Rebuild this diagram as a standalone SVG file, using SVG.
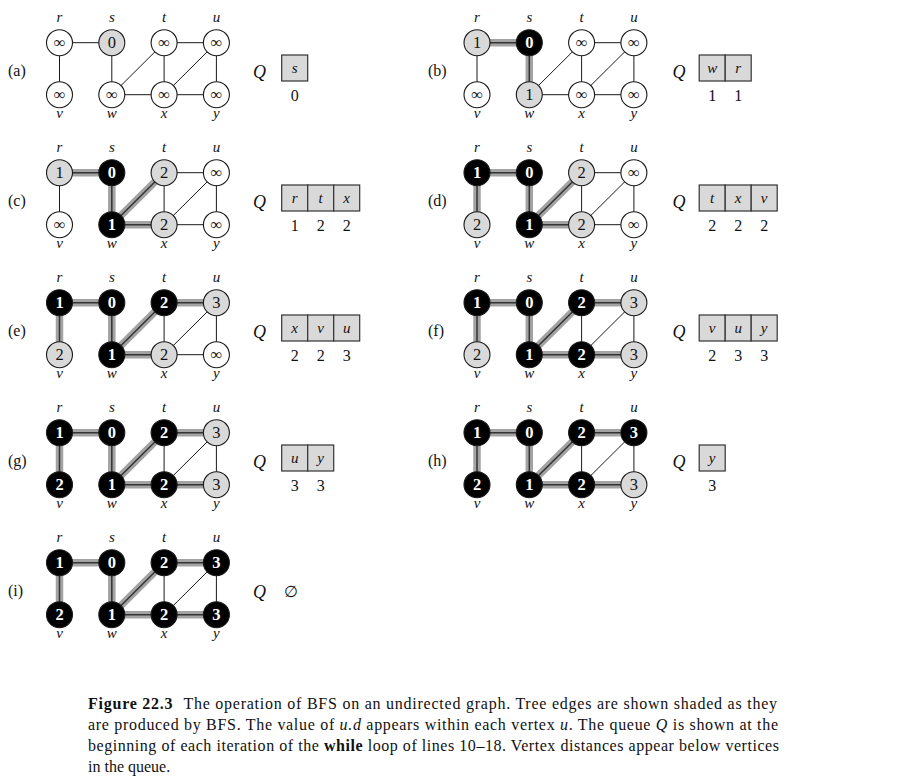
<svg xmlns="http://www.w3.org/2000/svg" width="918" height="783" viewBox="0 0 918 783">
<style>
.n circle{stroke:#1a1a1a;stroke-width:1.1}
.W{fill:#fff}.G{fill:#d9d9d9}.B{fill:#000}
.d,.lb,.pl,.q,.qn,.cap{font-family:"Liberation Serif","Times New Roman",Times,serif}
.d{font-size:16.5px;text-anchor:middle;fill:#111}
.db{fill:#fff;font-weight:bold}
.inf{font-size:16.5px}
.lb{font-style:italic;font-size:15px;text-anchor:middle;fill:#111}
.pl{font-size:16px;fill:#111}
.q{font-style:italic;font-size:18px;text-anchor:middle;fill:#111}
.qn{font-size:16px;text-anchor:middle;fill:#111}
.e line{stroke:#1a1a1a;stroke-width:1}
.e line.tb{stroke:#a3a3a3;stroke-width:7.5}
.e line.tc{stroke:#333;stroke-width:1.5}
.cell{fill:#d9d9d9;stroke:#333;stroke-width:1.2}
.cap{font-size:16px;fill:#111}
</style>

<!-- (a) -->
<g id="panel-a" transform="translate(59.5,42.7)">
<text class="pl" x="-51.5" y="33.5">(a)</text>
<g id="a-edges" class="e">
<line x1="0" y1="0" x2="52.3" y2="0"/><line x1="0" y1="0" x2="0" y2="52"/><line x1="52.3" y1="0" x2="52.3" y2="52"/>
<line x1="52.3" y1="52" x2="104.6" y2="0"/><line x1="52.3" y1="52" x2="104.6" y2="52"/><line x1="104.6" y1="0" x2="104.6" y2="52"/>
<line x1="104.6" y1="0" x2="156.9" y2="0"/><line x1="104.6" y1="52" x2="156.9" y2="0"/><line x1="104.6" y1="52" x2="156.9" y2="52"/><line x1="156.9" y1="0" x2="156.9" y2="52"/>
</g>
<g id="a-r" class="n"><circle class="W" cx="0" cy="0" r="13"/><text class="d inf" x="0" y="5">∞</text><text class="lb" x="0" y="-21">r</text></g>
<g id="a-s" class="n"><circle class="G" cx="52.3" cy="0" r="13"/><text class="d" x="52.3" y="5.5">0</text><text class="lb" x="52.3" y="-21">s</text></g>
<g id="a-t" class="n"><circle class="W" cx="104.6" cy="0" r="13"/><text class="d inf" x="104.6" y="5">∞</text><text class="lb" x="104.6" y="-21">t</text></g>
<g id="a-u" class="n"><circle class="W" cx="156.9" cy="0" r="13"/><text class="d inf" x="156.9" y="5">∞</text><text class="lb" x="156.9" y="-21">u</text></g>
<g id="a-v" class="n"><circle class="W" cx="0" cy="52" r="13"/><text class="d inf" x="0" y="57">∞</text><text class="lb" x="0" y="75.5">v</text></g>
<g id="a-w" class="n"><circle class="W" cx="52.3" cy="52" r="13"/><text class="d inf" x="52.3" y="57">∞</text><text class="lb" x="52.3" y="75.5">w</text></g>
<g id="a-x" class="n"><circle class="W" cx="104.6" cy="52" r="13"/><text class="d inf" x="104.6" y="57">∞</text><text class="lb" x="104.6" y="75.5">x</text></g>
<g id="a-y" class="n"><circle class="W" cx="156.9" cy="52" r="13"/><text class="d inf" x="156.9" y="57">∞</text><text class="lb" x="156.9" y="75.5">y</text></g>
<g id="a-queue"><text class="q" x="200" y="35">Q</text>
<rect class="cell" x="222.2" y="12.3" width="26" height="26"/>
<text class="lb" x="235.2" y="30.5">s</text>
<text class="qn" x="235.2" y="58">0</text></g>
</g>

<!-- (b) -->
<g id="panel-b" transform="translate(477,42.7)">
<text class="pl" x="-49" y="33.5">(b)</text>
<g id="b-edges" class="e">
<line x1="0" y1="0" x2="0" y2="52"/>
<line x1="52.3" y1="52" x2="104.6" y2="0"/><line x1="52.3" y1="52" x2="104.6" y2="52"/><line x1="104.6" y1="0" x2="104.6" y2="52"/>
<line x1="104.6" y1="0" x2="156.9" y2="0"/><line x1="104.6" y1="52" x2="156.9" y2="0"/><line x1="104.6" y1="52" x2="156.9" y2="52"/><line x1="156.9" y1="0" x2="156.9" y2="52"/>
<line class="tb" x1="0" y1="0" x2="52.3" y2="0"/><line class="tb" x1="52.3" y1="0" x2="52.3" y2="52"/>
<line class="tc" x1="0" y1="0" x2="52.3" y2="0"/><line class="tc" x1="52.3" y1="0" x2="52.3" y2="52"/>
</g>
<g id="b-r" class="n"><circle class="G" cx="0" cy="0" r="13"/><text class="d" x="0" y="5.5">1</text><text class="lb" x="0" y="-21">r</text></g>
<g id="b-s" class="n"><circle class="B" cx="52.3" cy="0" r="13"/><text class="d db" x="52.3" y="5.5">0</text><text class="lb" x="52.3" y="-21">s</text></g>
<g id="b-t" class="n"><circle class="W" cx="104.6" cy="0" r="13"/><text class="d inf" x="104.6" y="5">∞</text><text class="lb" x="104.6" y="-21">t</text></g>
<g id="b-u" class="n"><circle class="W" cx="156.9" cy="0" r="13"/><text class="d inf" x="156.9" y="5">∞</text><text class="lb" x="156.9" y="-21">u</text></g>
<g id="b-v" class="n"><circle class="W" cx="0" cy="52" r="13"/><text class="d inf" x="0" y="57">∞</text><text class="lb" x="0" y="75.5">v</text></g>
<g id="b-w" class="n"><circle class="G" cx="52.3" cy="52" r="13"/><text class="d" x="52.3" y="57.5">1</text><text class="lb" x="52.3" y="75.5">w</text></g>
<g id="b-x" class="n"><circle class="W" cx="104.6" cy="52" r="13"/><text class="d inf" x="104.6" y="57">∞</text><text class="lb" x="104.6" y="75.5">x</text></g>
<g id="b-y" class="n"><circle class="W" cx="156.9" cy="52" r="13"/><text class="d inf" x="156.9" y="57">∞</text><text class="lb" x="156.9" y="75.5">y</text></g>
<g id="b-queue"><text class="q" x="202" y="35">Q</text>
<rect class="cell" x="222.2" y="12.3" width="26" height="26"/><rect class="cell" x="248.2" y="12.3" width="26" height="26"/>
<text class="lb" x="235.2" y="30.5">w</text><text class="lb" x="261.2" y="30.5">r</text>
<text class="qn" x="235.2" y="58">1</text><text class="qn" x="261.2" y="58">1</text></g>
</g>

<!-- (c) -->
<g id="panel-c" transform="translate(59.5,172.7)">
<text class="pl" x="-51.5" y="33.5">(c)</text>
<g id="c-edges" class="e">
<line x1="0" y1="0" x2="0" y2="52"/>
<line x1="104.6" y1="0" x2="104.6" y2="52"/>
<line x1="104.6" y1="0" x2="156.9" y2="0"/><line x1="104.6" y1="52" x2="156.9" y2="0"/><line x1="104.6" y1="52" x2="156.9" y2="52"/><line x1="156.9" y1="0" x2="156.9" y2="52"/>
<line class="tb" x1="0" y1="0" x2="52.3" y2="0"/><line class="tb" x1="52.3" y1="0" x2="52.3" y2="52"/><line class="tb" x1="52.3" y1="52" x2="104.6" y2="0"/><line class="tb" x1="52.3" y1="52" x2="104.6" y2="52"/>
<line class="tc" x1="0" y1="0" x2="52.3" y2="0"/><line class="tc" x1="52.3" y1="0" x2="52.3" y2="52"/><line class="tc" x1="52.3" y1="52" x2="104.6" y2="0"/><line class="tc" x1="52.3" y1="52" x2="104.6" y2="52"/>
</g>
<g id="c-r" class="n"><circle class="G" cx="0" cy="0" r="13"/><text class="d" x="0" y="5.5">1</text><text class="lb" x="0" y="-21">r</text></g>
<g id="c-s" class="n"><circle class="B" cx="52.3" cy="0" r="13"/><text class="d db" x="52.3" y="5.5">0</text><text class="lb" x="52.3" y="-21">s</text></g>
<g id="c-t" class="n"><circle class="G" cx="104.6" cy="0" r="13"/><text class="d" x="104.6" y="5.5">2</text><text class="lb" x="104.6" y="-21">t</text></g>
<g id="c-u" class="n"><circle class="W" cx="156.9" cy="0" r="13"/><text class="d inf" x="156.9" y="5">∞</text><text class="lb" x="156.9" y="-21">u</text></g>
<g id="c-v" class="n"><circle class="W" cx="0" cy="52" r="13"/><text class="d inf" x="0" y="57">∞</text><text class="lb" x="0" y="75.5">v</text></g>
<g id="c-w" class="n"><circle class="B" cx="52.3" cy="52" r="13"/><text class="d db" x="52.3" y="57.5">1</text><text class="lb" x="52.3" y="75.5">w</text></g>
<g id="c-x" class="n"><circle class="G" cx="104.6" cy="52" r="13"/><text class="d" x="104.6" y="57.5">2</text><text class="lb" x="104.6" y="75.5">x</text></g>
<g id="c-y" class="n"><circle class="W" cx="156.9" cy="52" r="13"/><text class="d inf" x="156.9" y="57">∞</text><text class="lb" x="156.9" y="75.5">y</text></g>
<g id="c-queue"><text class="q" x="200" y="35">Q</text>
<rect class="cell" x="222.2" y="12.3" width="26" height="26"/><rect class="cell" x="248.2" y="12.3" width="26" height="26"/><rect class="cell" x="274.2" y="12.3" width="26" height="26"/>
<text class="lb" x="235.2" y="30.5">r</text><text class="lb" x="261.2" y="30.5">t</text><text class="lb" x="287.2" y="30.5">x</text>
<text class="qn" x="235.2" y="58">1</text><text class="qn" x="261.2" y="58">2</text><text class="qn" x="287.2" y="58">2</text></g>
</g>

<!-- (d) -->
<g id="panel-d" transform="translate(477,172.7)">
<text class="pl" x="-49" y="33.5">(d)</text>
<g id="d-edges" class="e">
<line x1="104.6" y1="0" x2="104.6" y2="52"/>
<line x1="104.6" y1="0" x2="156.9" y2="0"/><line x1="104.6" y1="52" x2="156.9" y2="0"/><line x1="104.6" y1="52" x2="156.9" y2="52"/><line x1="156.9" y1="0" x2="156.9" y2="52"/>
<line class="tb" x1="0" y1="0" x2="52.3" y2="0"/><line class="tb" x1="0" y1="0" x2="0" y2="52"/><line class="tb" x1="52.3" y1="0" x2="52.3" y2="52"/><line class="tb" x1="52.3" y1="52" x2="104.6" y2="0"/><line class="tb" x1="52.3" y1="52" x2="104.6" y2="52"/>
<line class="tc" x1="0" y1="0" x2="52.3" y2="0"/><line class="tc" x1="0" y1="0" x2="0" y2="52"/><line class="tc" x1="52.3" y1="0" x2="52.3" y2="52"/><line class="tc" x1="52.3" y1="52" x2="104.6" y2="0"/><line class="tc" x1="52.3" y1="52" x2="104.6" y2="52"/>
</g>
<g id="d-r" class="n"><circle class="B" cx="0" cy="0" r="13"/><text class="d db" x="0" y="5.5">1</text><text class="lb" x="0" y="-21">r</text></g>
<g id="d-s" class="n"><circle class="B" cx="52.3" cy="0" r="13"/><text class="d db" x="52.3" y="5.5">0</text><text class="lb" x="52.3" y="-21">s</text></g>
<g id="d-t" class="n"><circle class="G" cx="104.6" cy="0" r="13"/><text class="d" x="104.6" y="5.5">2</text><text class="lb" x="104.6" y="-21">t</text></g>
<g id="d-u" class="n"><circle class="W" cx="156.9" cy="0" r="13"/><text class="d inf" x="156.9" y="5">∞</text><text class="lb" x="156.9" y="-21">u</text></g>
<g id="d-v" class="n"><circle class="G" cx="0" cy="52" r="13"/><text class="d" x="0" y="57.5">2</text><text class="lb" x="0" y="75.5">v</text></g>
<g id="d-w" class="n"><circle class="B" cx="52.3" cy="52" r="13"/><text class="d db" x="52.3" y="57.5">1</text><text class="lb" x="52.3" y="75.5">w</text></g>
<g id="d-x" class="n"><circle class="G" cx="104.6" cy="52" r="13"/><text class="d" x="104.6" y="57.5">2</text><text class="lb" x="104.6" y="75.5">x</text></g>
<g id="d-y" class="n"><circle class="W" cx="156.9" cy="52" r="13"/><text class="d inf" x="156.9" y="57">∞</text><text class="lb" x="156.9" y="75.5">y</text></g>
<g id="d-queue"><text class="q" x="202" y="35">Q</text>
<rect class="cell" x="222.2" y="12.3" width="26" height="26"/><rect class="cell" x="248.2" y="12.3" width="26" height="26"/><rect class="cell" x="274.2" y="12.3" width="26" height="26"/>
<text class="lb" x="235.2" y="30.5">t</text><text class="lb" x="261.2" y="30.5">x</text><text class="lb" x="287.2" y="30.5">v</text>
<text class="qn" x="235.2" y="58">2</text><text class="qn" x="261.2" y="58">2</text><text class="qn" x="287.2" y="58">2</text></g>
</g>

<!-- (e) -->
<g id="panel-e" transform="translate(59.5,302.7)">
<text class="pl" x="-51.5" y="33.5">(e)</text>
<g id="e-edges" class="e">
<line x1="104.6" y1="0" x2="104.6" y2="52"/>
<line x1="104.6" y1="52" x2="156.9" y2="0"/><line x1="104.6" y1="52" x2="156.9" y2="52"/><line x1="156.9" y1="0" x2="156.9" y2="52"/>
<line class="tb" x1="0" y1="0" x2="52.3" y2="0"/><line class="tb" x1="0" y1="0" x2="0" y2="52"/><line class="tb" x1="52.3" y1="0" x2="52.3" y2="52"/><line class="tb" x1="52.3" y1="52" x2="104.6" y2="0"/><line class="tb" x1="52.3" y1="52" x2="104.6" y2="52"/><line class="tb" x1="104.6" y1="0" x2="156.9" y2="0"/>
<line class="tc" x1="0" y1="0" x2="52.3" y2="0"/><line class="tc" x1="0" y1="0" x2="0" y2="52"/><line class="tc" x1="52.3" y1="0" x2="52.3" y2="52"/><line class="tc" x1="52.3" y1="52" x2="104.6" y2="0"/><line class="tc" x1="52.3" y1="52" x2="104.6" y2="52"/><line class="tc" x1="104.6" y1="0" x2="156.9" y2="0"/>
</g>
<g id="e-r" class="n"><circle class="B" cx="0" cy="0" r="13"/><text class="d db" x="0" y="5.5">1</text><text class="lb" x="0" y="-21">r</text></g>
<g id="e-s" class="n"><circle class="B" cx="52.3" cy="0" r="13"/><text class="d db" x="52.3" y="5.5">0</text><text class="lb" x="52.3" y="-21">s</text></g>
<g id="e-t" class="n"><circle class="B" cx="104.6" cy="0" r="13"/><text class="d db" x="104.6" y="5.5">2</text><text class="lb" x="104.6" y="-21">t</text></g>
<g id="e-u" class="n"><circle class="G" cx="156.9" cy="0" r="13"/><text class="d" x="156.9" y="5.5">3</text><text class="lb" x="156.9" y="-21">u</text></g>
<g id="e-v" class="n"><circle class="G" cx="0" cy="52" r="13"/><text class="d" x="0" y="57.5">2</text><text class="lb" x="0" y="75.5">v</text></g>
<g id="e-w" class="n"><circle class="B" cx="52.3" cy="52" r="13"/><text class="d db" x="52.3" y="57.5">1</text><text class="lb" x="52.3" y="75.5">w</text></g>
<g id="e-x" class="n"><circle class="G" cx="104.6" cy="52" r="13"/><text class="d" x="104.6" y="57.5">2</text><text class="lb" x="104.6" y="75.5">x</text></g>
<g id="e-y" class="n"><circle class="W" cx="156.9" cy="52" r="13"/><text class="d inf" x="156.9" y="57">∞</text><text class="lb" x="156.9" y="75.5">y</text></g>
<g id="e-queue"><text class="q" x="200" y="35">Q</text>
<rect class="cell" x="222.2" y="12.3" width="26" height="26"/><rect class="cell" x="248.2" y="12.3" width="26" height="26"/><rect class="cell" x="274.2" y="12.3" width="26" height="26"/>
<text class="lb" x="235.2" y="30.5">x</text><text class="lb" x="261.2" y="30.5">v</text><text class="lb" x="287.2" y="30.5">u</text>
<text class="qn" x="235.2" y="58">2</text><text class="qn" x="261.2" y="58">2</text><text class="qn" x="287.2" y="58">3</text></g>
</g>

<!-- (f) -->
<g id="panel-f" transform="translate(477,302.7)">
<text class="pl" x="-49" y="33.5">(f)</text>
<g id="f-edges" class="e">
<line x1="104.6" y1="0" x2="104.6" y2="52"/>
<line x1="104.6" y1="52" x2="156.9" y2="0"/><line x1="156.9" y1="0" x2="156.9" y2="52"/>
<line class="tb" x1="0" y1="0" x2="52.3" y2="0"/><line class="tb" x1="0" y1="0" x2="0" y2="52"/><line class="tb" x1="52.3" y1="0" x2="52.3" y2="52"/><line class="tb" x1="52.3" y1="52" x2="104.6" y2="0"/><line class="tb" x1="52.3" y1="52" x2="104.6" y2="52"/><line class="tb" x1="104.6" y1="0" x2="156.9" y2="0"/><line class="tb" x1="104.6" y1="52" x2="156.9" y2="52"/>
<line class="tc" x1="0" y1="0" x2="52.3" y2="0"/><line class="tc" x1="0" y1="0" x2="0" y2="52"/><line class="tc" x1="52.3" y1="0" x2="52.3" y2="52"/><line class="tc" x1="52.3" y1="52" x2="104.6" y2="0"/><line class="tc" x1="52.3" y1="52" x2="104.6" y2="52"/><line class="tc" x1="104.6" y1="0" x2="156.9" y2="0"/><line class="tc" x1="104.6" y1="52" x2="156.9" y2="52"/>
</g>
<g id="f-r" class="n"><circle class="B" cx="0" cy="0" r="13"/><text class="d db" x="0" y="5.5">1</text><text class="lb" x="0" y="-21">r</text></g>
<g id="f-s" class="n"><circle class="B" cx="52.3" cy="0" r="13"/><text class="d db" x="52.3" y="5.5">0</text><text class="lb" x="52.3" y="-21">s</text></g>
<g id="f-t" class="n"><circle class="B" cx="104.6" cy="0" r="13"/><text class="d db" x="104.6" y="5.5">2</text><text class="lb" x="104.6" y="-21">t</text></g>
<g id="f-u" class="n"><circle class="G" cx="156.9" cy="0" r="13"/><text class="d" x="156.9" y="5.5">3</text><text class="lb" x="156.9" y="-21">u</text></g>
<g id="f-v" class="n"><circle class="G" cx="0" cy="52" r="13"/><text class="d" x="0" y="57.5">2</text><text class="lb" x="0" y="75.5">v</text></g>
<g id="f-w" class="n"><circle class="B" cx="52.3" cy="52" r="13"/><text class="d db" x="52.3" y="57.5">1</text><text class="lb" x="52.3" y="75.5">w</text></g>
<g id="f-x" class="n"><circle class="B" cx="104.6" cy="52" r="13"/><text class="d db" x="104.6" y="57.5">2</text><text class="lb" x="104.6" y="75.5">x</text></g>
<g id="f-y" class="n"><circle class="G" cx="156.9" cy="52" r="13"/><text class="d" x="156.9" y="57.5">3</text><text class="lb" x="156.9" y="75.5">y</text></g>
<g id="f-queue"><text class="q" x="202" y="35">Q</text>
<rect class="cell" x="222.2" y="12.3" width="26" height="26"/><rect class="cell" x="248.2" y="12.3" width="26" height="26"/><rect class="cell" x="274.2" y="12.3" width="26" height="26"/>
<text class="lb" x="235.2" y="30.5">v</text><text class="lb" x="261.2" y="30.5">u</text><text class="lb" x="287.2" y="30.5">y</text>
<text class="qn" x="235.2" y="58">2</text><text class="qn" x="261.2" y="58">3</text><text class="qn" x="287.2" y="58">3</text></g>
</g>

<!-- (g) -->
<g id="panel-g" transform="translate(59.5,432.7)">
<text class="pl" x="-51.5" y="33.5">(g)</text>
<g id="g-edges" class="e">
<line x1="104.6" y1="0" x2="104.6" y2="52"/>
<line x1="104.6" y1="52" x2="156.9" y2="0"/><line x1="156.9" y1="0" x2="156.9" y2="52"/>
<line class="tb" x1="0" y1="0" x2="52.3" y2="0"/><line class="tb" x1="0" y1="0" x2="0" y2="52"/><line class="tb" x1="52.3" y1="0" x2="52.3" y2="52"/><line class="tb" x1="52.3" y1="52" x2="104.6" y2="0"/><line class="tb" x1="52.3" y1="52" x2="104.6" y2="52"/><line class="tb" x1="104.6" y1="0" x2="156.9" y2="0"/><line class="tb" x1="104.6" y1="52" x2="156.9" y2="52"/>
<line class="tc" x1="0" y1="0" x2="52.3" y2="0"/><line class="tc" x1="0" y1="0" x2="0" y2="52"/><line class="tc" x1="52.3" y1="0" x2="52.3" y2="52"/><line class="tc" x1="52.3" y1="52" x2="104.6" y2="0"/><line class="tc" x1="52.3" y1="52" x2="104.6" y2="52"/><line class="tc" x1="104.6" y1="0" x2="156.9" y2="0"/><line class="tc" x1="104.6" y1="52" x2="156.9" y2="52"/>
</g>
<g id="g-r" class="n"><circle class="B" cx="0" cy="0" r="13"/><text class="d db" x="0" y="5.5">1</text><text class="lb" x="0" y="-21">r</text></g>
<g id="g-s" class="n"><circle class="B" cx="52.3" cy="0" r="13"/><text class="d db" x="52.3" y="5.5">0</text><text class="lb" x="52.3" y="-21">s</text></g>
<g id="g-t" class="n"><circle class="B" cx="104.6" cy="0" r="13"/><text class="d db" x="104.6" y="5.5">2</text><text class="lb" x="104.6" y="-21">t</text></g>
<g id="g-u" class="n"><circle class="G" cx="156.9" cy="0" r="13"/><text class="d" x="156.9" y="5.5">3</text><text class="lb" x="156.9" y="-21">u</text></g>
<g id="g-v" class="n"><circle class="B" cx="0" cy="52" r="13"/><text class="d db" x="0" y="57.5">2</text><text class="lb" x="0" y="75.5">v</text></g>
<g id="g-w" class="n"><circle class="B" cx="52.3" cy="52" r="13"/><text class="d db" x="52.3" y="57.5">1</text><text class="lb" x="52.3" y="75.5">w</text></g>
<g id="g-x" class="n"><circle class="B" cx="104.6" cy="52" r="13"/><text class="d db" x="104.6" y="57.5">2</text><text class="lb" x="104.6" y="75.5">x</text></g>
<g id="g-y" class="n"><circle class="G" cx="156.9" cy="52" r="13"/><text class="d" x="156.9" y="57.5">3</text><text class="lb" x="156.9" y="75.5">y</text></g>
<g id="g-queue"><text class="q" x="200" y="35">Q</text>
<rect class="cell" x="222.2" y="12.3" width="26" height="26"/><rect class="cell" x="248.2" y="12.3" width="26" height="26"/>
<text class="lb" x="235.2" y="30.5">u</text><text class="lb" x="261.2" y="30.5">y</text>
<text class="qn" x="235.2" y="58">3</text><text class="qn" x="261.2" y="58">3</text></g>
</g>

<!-- (h) -->
<g id="panel-h" transform="translate(477,432.7)">
<text class="pl" x="-49" y="33.5">(h)</text>
<g id="h-edges" class="e">
<line x1="104.6" y1="0" x2="104.6" y2="52"/>
<line x1="104.6" y1="52" x2="156.9" y2="0"/><line x1="156.9" y1="0" x2="156.9" y2="52"/>
<line class="tb" x1="0" y1="0" x2="52.3" y2="0"/><line class="tb" x1="0" y1="0" x2="0" y2="52"/><line class="tb" x1="52.3" y1="0" x2="52.3" y2="52"/><line class="tb" x1="52.3" y1="52" x2="104.6" y2="0"/><line class="tb" x1="52.3" y1="52" x2="104.6" y2="52"/><line class="tb" x1="104.6" y1="0" x2="156.9" y2="0"/><line class="tb" x1="104.6" y1="52" x2="156.9" y2="52"/>
<line class="tc" x1="0" y1="0" x2="52.3" y2="0"/><line class="tc" x1="0" y1="0" x2="0" y2="52"/><line class="tc" x1="52.3" y1="0" x2="52.3" y2="52"/><line class="tc" x1="52.3" y1="52" x2="104.6" y2="0"/><line class="tc" x1="52.3" y1="52" x2="104.6" y2="52"/><line class="tc" x1="104.6" y1="0" x2="156.9" y2="0"/><line class="tc" x1="104.6" y1="52" x2="156.9" y2="52"/>
</g>
<g id="h-r" class="n"><circle class="B" cx="0" cy="0" r="13"/><text class="d db" x="0" y="5.5">1</text><text class="lb" x="0" y="-21">r</text></g>
<g id="h-s" class="n"><circle class="B" cx="52.3" cy="0" r="13"/><text class="d db" x="52.3" y="5.5">0</text><text class="lb" x="52.3" y="-21">s</text></g>
<g id="h-t" class="n"><circle class="B" cx="104.6" cy="0" r="13"/><text class="d db" x="104.6" y="5.5">2</text><text class="lb" x="104.6" y="-21">t</text></g>
<g id="h-u" class="n"><circle class="B" cx="156.9" cy="0" r="13"/><text class="d db" x="156.9" y="5.5">3</text><text class="lb" x="156.9" y="-21">u</text></g>
<g id="h-v" class="n"><circle class="B" cx="0" cy="52" r="13"/><text class="d db" x="0" y="57.5">2</text><text class="lb" x="0" y="75.5">v</text></g>
<g id="h-w" class="n"><circle class="B" cx="52.3" cy="52" r="13"/><text class="d db" x="52.3" y="57.5">1</text><text class="lb" x="52.3" y="75.5">w</text></g>
<g id="h-x" class="n"><circle class="B" cx="104.6" cy="52" r="13"/><text class="d db" x="104.6" y="57.5">2</text><text class="lb" x="104.6" y="75.5">x</text></g>
<g id="h-y" class="n"><circle class="G" cx="156.9" cy="52" r="13"/><text class="d" x="156.9" y="57.5">3</text><text class="lb" x="156.9" y="75.5">y</text></g>
<g id="h-queue"><text class="q" x="202" y="35">Q</text>
<rect class="cell" x="222.2" y="12.3" width="26" height="26"/>
<text class="lb" x="235.2" y="30.5">y</text>
<text class="qn" x="235.2" y="58">3</text></g>
</g>

<!-- (i) -->
<g id="panel-i" transform="translate(59.5,562.7)">
<text class="pl" x="-51.5" y="33.5">(i)</text>
<g id="i-edges" class="e">
<line x1="104.6" y1="0" x2="104.6" y2="52"/>
<line x1="104.6" y1="52" x2="156.9" y2="0"/><line x1="156.9" y1="0" x2="156.9" y2="52"/>
<line class="tb" x1="0" y1="0" x2="52.3" y2="0"/><line class="tb" x1="0" y1="0" x2="0" y2="52"/><line class="tb" x1="52.3" y1="0" x2="52.3" y2="52"/><line class="tb" x1="52.3" y1="52" x2="104.6" y2="0"/><line class="tb" x1="52.3" y1="52" x2="104.6" y2="52"/><line class="tb" x1="104.6" y1="0" x2="156.9" y2="0"/><line class="tb" x1="104.6" y1="52" x2="156.9" y2="52"/>
<line class="tc" x1="0" y1="0" x2="52.3" y2="0"/><line class="tc" x1="0" y1="0" x2="0" y2="52"/><line class="tc" x1="52.3" y1="0" x2="52.3" y2="52"/><line class="tc" x1="52.3" y1="52" x2="104.6" y2="0"/><line class="tc" x1="52.3" y1="52" x2="104.6" y2="52"/><line class="tc" x1="104.6" y1="0" x2="156.9" y2="0"/><line class="tc" x1="104.6" y1="52" x2="156.9" y2="52"/>
</g>
<g id="i-r" class="n"><circle class="B" cx="0" cy="0" r="13"/><text class="d db" x="0" y="5.5">1</text><text class="lb" x="0" y="-21">r</text></g>
<g id="i-s" class="n"><circle class="B" cx="52.3" cy="0" r="13"/><text class="d db" x="52.3" y="5.5">0</text><text class="lb" x="52.3" y="-21">s</text></g>
<g id="i-t" class="n"><circle class="B" cx="104.6" cy="0" r="13"/><text class="d db" x="104.6" y="5.5">2</text><text class="lb" x="104.6" y="-21">t</text></g>
<g id="i-u" class="n"><circle class="B" cx="156.9" cy="0" r="13"/><text class="d db" x="156.9" y="5.5">3</text><text class="lb" x="156.9" y="-21">u</text></g>
<g id="i-v" class="n"><circle class="B" cx="0" cy="52" r="13"/><text class="d db" x="0" y="57.5">2</text><text class="lb" x="0" y="75.5">v</text></g>
<g id="i-w" class="n"><circle class="B" cx="52.3" cy="52" r="13"/><text class="d db" x="52.3" y="57.5">1</text><text class="lb" x="52.3" y="75.5">w</text></g>
<g id="i-x" class="n"><circle class="B" cx="104.6" cy="52" r="13"/><text class="d db" x="104.6" y="57.5">2</text><text class="lb" x="104.6" y="75.5">x</text></g>
<g id="i-y" class="n"><circle class="B" cx="156.9" cy="52" r="13"/><text class="d db" x="156.9" y="57.5">3</text><text class="lb" x="156.9" y="75.5">y</text></g>
<g id="i-queue"><text class="q" x="200" y="35">Q</text>
<text class="qn" x="231" y="34">∅</text></g>
</g>

<!-- caption -->
<g id="caption" class="cap">
<text class="cap" x="88" y="709" textLength="689" lengthAdjust="spacing"><tspan font-weight="bold">Figure 22.3</tspan><tspan dx="10">The operation of BFS on an undirected graph. Tree edges are shown shaded as they</tspan></text>
<text class="cap" x="88" y="730" textLength="690" lengthAdjust="spacing">are produced by BFS. The value of <tspan font-style="italic">u.d</tspan> appears within each vertex <tspan font-style="italic">u</tspan>. The queue <tspan font-style="italic">Q</tspan> is shown at the</text>
<text class="cap" x="88" y="751" textLength="691" lengthAdjust="spacing">beginning of each iteration of the <tspan font-weight="bold">while</tspan> loop of lines 10–18. Vertex distances appear below vertices</text>
<text class="cap" x="88" y="772">in the queue.</text>
</g>
</svg>
